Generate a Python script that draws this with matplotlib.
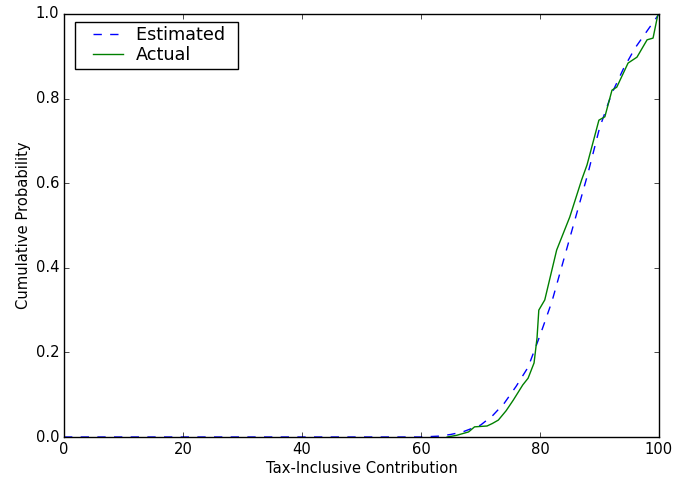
import matplotlib
matplotlib.use("Agg")
import matplotlib.pyplot as plt
from matplotlib.legend_handler import HandlerLine2D

est_x = [0, 55, 60, 63, 65, 67, 70, 72, 74, 76, 78, 80, 82, 84, 86, 88, 90, 92, 94, 96, 98, 100]
est_y = [0.0, 0.0, 0.0, 0.002, 0.006, 0.012, 0.028, 0.05, 0.08, 0.12, 0.165, 0.24, 0.32, 0.42,
         0.52, 0.62, 0.73, 0.81, 0.87, 0.92, 0.96, 1.0]

act_x = [64.4, 66, 68, 69, 71.1, 72, 73, 74.3, 75.5, 77.1, 78, 79, 79.5, 79.8, 80.8, 82.8,
         85, 87, 87.9, 89.9, 90.9, 92.1, 92.9, 94.8, 96.3, 98, 99, 99.8]
act_y = [0.0, 0.004, 0.012, 0.024, 0.026, 0.032, 0.04, 0.062, 0.087, 0.123, 0.139, 0.175,
         0.234, 0.30, 0.324, 0.442, 0.52, 0.608, 0.643, 0.749, 0.757, 0.82, 0.827, 0.884,
         0.898, 0.939, 0.943, 0.998]

plt.style.use("classic")
plt.rcParams["font.size"] = 10.6
plt.rcParams["xtick.major.pad"] = 3.5
plt.rcParams["ytick.major.pad"] = 3.5
plt.rcParams["xtick.major.size"] = 3.5
plt.rcParams["ytick.major.size"] = 3.5

fig = plt.figure(figsize=(6.77, 4.8), dpi=100)
fig.patch.set_facecolor("white")
ax = fig.add_axes([64 / 677, 43 / 480, 595 / 677, 423 / 480])

est_line, = ax.plot(est_x, est_y, "b--", label="Estimated\u2002")
act_line, = ax.plot(act_x, act_y, "g-", label="Actual")

ax.set_xlim(0, 100)
ax.set_ylim(0, 1)
ax.set_xlabel("Tax-Inclusive Contribution", labelpad=3)
ax.set_ylabel("Cumulative Probability", labelpad=3)

# old-style legend: wide left margin around the short handles
handler = HandlerLine2D(xpad=0.47)
ax.legend(loc="upper left", bbox_to_anchor=(0.0185, 0.981), borderaxespad=0,
          handlelength=2.77, handletextpad=0.42, borderpad=0.25, labelspacing=0.1,
          handler_map={est_line: handler, act_line: handler})

fig.savefig("out.png", dpi=100, facecolor="white")
